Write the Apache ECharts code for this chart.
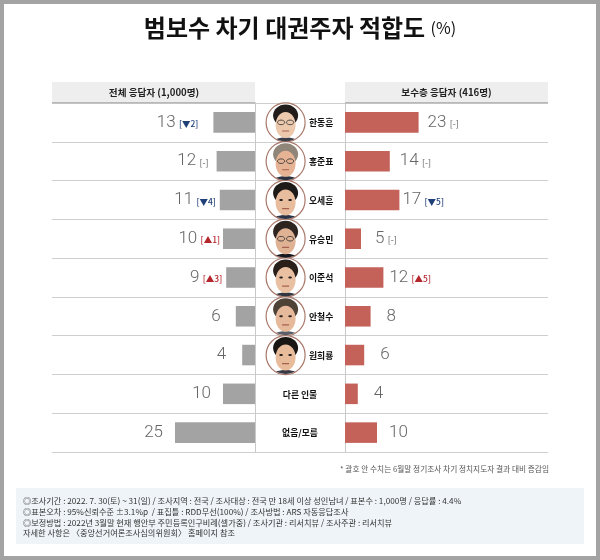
<!DOCTYPE html>
<html><head><meta charset="utf-8"><style>html,body{margin:0;padding:0;background:#fff}#c{width:600px;height:560px}</style>
<script src="https://cdn.jsdelivr.net/npm/echarts@6/dist/echarts.min.js"></script></head>
<body><div id="c"></div><script>
const names=['한동훈','홍준표','오세훈','유승민','이준석','안철수','원희룡','다른 인물','없음/모름'];
const allValues=[13,12,11,10,9,6,4,10,25];
const allChange=['▼2','-','▼4','▲1','▲3','','','',''];
const conValues=[23,14,17,5,12,8,6,4,10];
const conChange=['-','-','▼5','-','▲5','','','',''];
const headers=['전체 응답자 (1,000명)','보수층 응답자 (416명)'];
const titleMain='범보수 차기 대권주자 적합도';
const footnote='* 괄호 안 수치는 6월말 정기조사 차기 정치지도자 결과 대비 증감임';
const notes=['◎조사기간 : 2022. 7. 30(토) ~ 31(일) / 조사지역 : 전국 / 조사대상 : 전국 만 18세 이상 성인남녀 / 표본수 : 1,000명 / 응답률 : 4.4%',
'◎표본오차 : 95%신뢰수준 ±3.1%p  / 표집틀 : RDD무선(100%) / 조사방법 : ARS 자동응답조사',
'◎보정방법 : 2022년 3월말 현재 행안부 주민등록인구비례(셀가중) / 조사기관 : 리서치뷰 / 조사주관 : 리서치뷰',
'자세한 사항은 〈중앙선거여론조사심의위원회〉 홈페이지 참조'];
const leftGaps=[15,8,4,3,4,15,16,12,12];
const rightGaps=[9,10,3,14,6,16,16,16,12];
const F='"Noto Sans CJK KR"';
const small={fontSize:8.5,fontFamily:F,fontWeight:500,verticalAlign:'bottom',lineHeight:17,height:17};
const rich={v:{fontFamily:'Roboto',fontSize:17,color:'#666',fontWeight:300,lineHeight:20},
 dn:{...small,color:'#1f3f77'},
 up:{...small,color:'#b5252c'},
 no:{...small,color:'#777'}};
function lab(v,c){
 if(!c) return '{v|'+v+'}';
 const k=c[0]==='▼'?'dn':c[0]==='▲'?'up':'no';
 return '{v|'+v+'} {'+k+'|['+c+']}';
}
const grids=[{left:52,width:203,top:103,height:349},{left:255,width:90,top:103,height:349},{left:345,width:203,top:103,height:349}];
function yAxis(i,pos){return {gridIndex:i,type:'category',data:names,inverse:true,position:pos,
 axisTick:{show:false},axisLabel:{show:false},
 axisLine:{show:true,onZero:false,lineStyle:{color:'#c9c9c9',width:1}},
 splitLine:{show:true,lineStyle:{color:'#cfcfcf',width:1}}};}
function xAxis(i,inv){return {gridIndex:i,type:'value',min:0,max:203/3.2,inverse:inv,show:false};}
const looks=[
 {hair:'#221d1a',skin:'#ecc9ad',body:'#3a3f4a',glasses:true},
 {hair:'#8f8578',skin:'#e6b494',body:'#2c3140',glasses:true},
 {hair:'#1e1a17',skin:'#e8bd9d',body:'#2b3446',glasses:false},
 {hair:'#2e2520',skin:'#e0b294',body:'#16181d',glasses:true},
 {hair:'#2a1f19',skin:'#e9c0a2',body:'#30353f',glasses:false},
 {hair:'#4f4237',skin:'#e6b99a',body:'#5a5e68',glasses:false},
 {hair:'#1a1614',skin:'#e8bb9a',body:'#3a3a44',glasses:false}];
function portrait(cx,y,s){
 const clip={type:'circle',shape:{cx:cx,cy:y,r:19}};
 return {type:'group',children:[
  {type:'circle',shape:{cx:cx,cy:y,r:19.5},style:{fill:'#fff',stroke:'#a9786a',lineWidth:1.2},z2:1},
  {type:'group',clipPath:clip,children:[
   {type:'ellipse',shape:{cx:cx,cy:y+23,rx:16,ry:8},style:{fill:s.body},z2:2},
   {type:'ellipse',shape:{cx:cx,cy:y-7,rx:12.5,ry:11},style:{fill:s.hair},z2:3},
   {type:'ellipse',shape:{cx:cx,cy:y+2.5,rx:10,ry:13},style:{fill:s.skin},z2:4}
  ].concat(s.glasses?[
   {type:'ellipse',shape:{cx:cx-4.5,cy:y,rx:3.6,ry:2.3},style:{fill:'none',stroke:'#3a3a3a',lineWidth:0.9},z2:5},
   {type:'ellipse',shape:{cx:cx+4.5,cy:y,rx:3.6,ry:2.3},style:{fill:'none',stroke:'#3a3a3a',lineWidth:0.9},z2:5}
  ]:[
   {type:'ellipse',shape:{cx:cx-4.5,cy:y,rx:1.8,ry:1},style:{fill:'#2a2220'},z2:5},
   {type:'ellipse',shape:{cx:cx+4.5,cy:y,rx:1.8,ry:1},style:{fill:'#2a2220'},z2:5}
  ]).concat([{type:'rect',shape:{x:cx-3.5,y:y+8,width:7,height:1.2},style:{fill:'#a8604f'},z2:5}])}
 ]};
}
const graphic=[
 {type:'rect',z:-1,silent:true,shape:{x:0,y:0,width:600,height:560},style:{fill:'none',stroke:'#a3a3a3',lineWidth:8}},
 {type:'rect',silent:true,shape:{x:52,y:82,width:203,height:21},style:{fill:'#eeeeee'}},
 {type:'rect',silent:true,shape:{x:345,y:82,width:203,height:21},style:{fill:'#eeeeee'}},
 {type:'rect',silent:true,z:10,shape:{x:52,y:102,width:203,height:1.5},style:{fill:'#b8b8b8'}},
 {type:'rect',silent:true,z:10,shape:{x:345,y:102,width:203,height:1.5},style:{fill:'#b8b8b8'}},
 {type:'text',silent:true,x:154,y:92.5,style:{text:headers[0],fill:'#222',font:'bold 9.6px '+F,align:'center',verticalAlign:'middle'}},
 {type:'text',silent:true,x:446.5,y:92.5,style:{text:headers[1],fill:'#222',font:'bold 9.6px '+F,align:'center',verticalAlign:'middle'}},
 {type:'text',silent:true,x:549,y:469,style:{text:footnote,fill:'#555',font:'7.7px '+F,align:'right',verticalAlign:'middle'}},
 {type:'rect',silent:true,shape:{x:16,y:488,width:568,height:56},style:{fill:'#eef4f7'}}
];
notes.forEach((t,i)=>graphic.push({type:'text',silent:true,x:23,y:501+i*10.7,style:{text:t,fill:'#333',font:'8.2px '+F,align:'left',verticalAlign:'middle'}}));
const option={animation:false,backgroundColor:'#fff',
 title:{text:titleMain+' {p|(%)}',left:'center',top:11,
  textStyle:{fontFamily:F,fontSize:24,fontWeight:'bold',color:'#111',
   rich:{p:{fontFamily:F,fontSize:16,fontWeight:400,color:'#111'}}}},
 grid:grids,
 xAxis:[xAxis(0,true),{gridIndex:1,type:'value',min:-1,max:1,show:false},xAxis(2,false)],
 yAxis:[yAxis(0,'right'),yAxis(1,'left'),yAxis(2,'left')],
 graphic:graphic,
 series:[
  {type:'bar',xAxisIndex:0,yAxisIndex:0,data:allValues.map((v,i)=>({value:v,label:{distance:leftGaps[i]}})),barWidth:'53%',itemStyle:{color:'#a3a3a3'},
   label:{show:true,position:'left',formatter:p=>lab(p.value,allChange[p.dataIndex]),rich:rich}},
  {type:'bar',xAxisIndex:2,yAxisIndex:2,data:conValues.map((v,i)=>({value:v,label:{distance:rightGaps[i]}})),barWidth:'53%',itemStyle:{color:'#c4625a'},
   label:{show:true,position:'right',formatter:p=>lab(p.value,conChange[p.dataIndex]),rich:rich}},
  {type:'custom',xAxisIndex:1,yAxisIndex:1,clip:false,silent:true,
   data:names.map((n,i)=>[i<7?-0.32:0,i]),encode:{x:0,y:1},
   renderItem:(params,api)=>{
    const i=api.value(1),c=api.coord([api.value(0),i]);
    const kids=[];
    if(i<7) kids.push(portrait(c[0],c[1],looks[i]));
    kids.push({type:'text',style:{text:names[i],x:i<7?c[0]+35.5:c[0],y:c[1]+0.5,fill:'#111',font:'bold 8.8px '+F,align:'center',verticalAlign:'middle'},z2:8});
    return {type:'group',children:kids};
   }}
 ]};
echarts.init(document.getElementById('c'),null,{renderer:'canvas'}).setOption(option);
</script></body></html>
